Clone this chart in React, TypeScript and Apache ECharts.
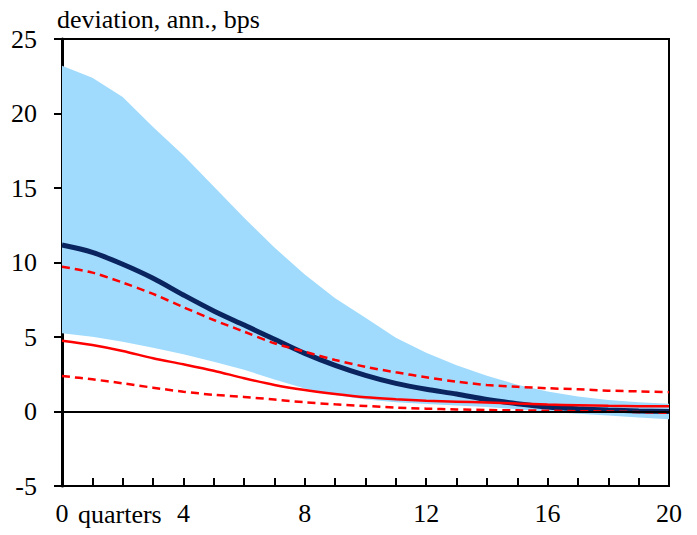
import React, { useEffect, useRef } from "react";
import * as echarts from "echarts";

const quarters = [0, 1, 2, 3, 4, 5, 6, 7, 8, 9, 10, 11, 12, 13, 14, 15, 16, 17, 18, 19, 20];
const bandUpper = [23.2, 22.4, 21.1, 19.1, 17.2, 15.1, 13.0, 11.0, 9.2, 7.6, 6.3, 4.95, 3.95, 3.1, 2.4, 1.8, 1.35, 1.0, 0.78, 0.62, 0.52];
const bandLower = [5.25, 5.02, 4.68, 4.28, 3.84, 3.34, 2.8, 2.15, 1.55, 1.1, 0.8, 0.62, 0.5, 0.4, 0.3, 0.15, -0.02, -0.15, -0.27, -0.4, -0.52];
const median = [11.17, 10.68, 9.88, 8.94, 7.82, 6.75, 5.8, 4.85, 3.9, 3.1, 2.43, 1.89, 1.49, 1.17, 0.8, 0.52, 0.3, 0.18, 0.1, 0.04, 0.0];
const redSolid = [4.75, 4.46, 4.06, 3.57, 3.17, 2.74, 2.23, 1.78, 1.44, 1.17, 0.95, 0.82, 0.72, 0.66, 0.6, 0.53, 0.47, 0.42, 0.38, 0.36, 0.35];
const redDashUpper = [9.72, 9.32, 8.65, 7.89, 7.0, 6.14, 5.36, 4.58, 4.01, 3.46, 3.0, 2.63, 2.3, 2.0, 1.78, 1.66, 1.56, 1.49, 1.4, 1.35, 1.3];
const redDashLower = [2.38, 2.16, 1.89, 1.6, 1.33, 1.12, 0.98, 0.8, 0.62, 0.48, 0.37, 0.26, 0.19, 0.14, 0.1, 0.08, 0.05, 0.02, 0.0, -0.04, -0.08];
const yTicks = { min: -5, max: 25, interval: 5 };
const xTicks = { min: 0, max: 20, interval: 4 };

const FONT = "Liberation Serif";

export default function App() {
  const ref = useRef<HTMLDivElement>(null);
  useEffect(() => {
    if (!ref.current) return;
    const chart = echarts.init(ref.current, undefined, { renderer: "svg" });
    const pair = (arr: number[]) => quarters.map((q, i) => [q, arr[i]]);
    chart.setOption({
      animation: false,
      grid: {
        left: 62,
        right: 28,
        top: 39,
        bottom: 49,
        show: true,
        borderColor: "#000",
        borderWidth: 2,
        backgroundColor: "transparent",
      },
      graphic: [
        {
          type: "text",
          left: 57,
          top: 6,
          style: { text: "deviation, ann., bps", font: `26px "${FONT}"`, fill: "#000" },
        },
        {
          type: "text",
          left: 78,
          top: 501,
          style: { text: "quarters", font: `26px "${FONT}"`, fill: "#000" },
        },
      ],
      xAxis: {
        type: "value",
        min: xTicks.min,
        max: xTicks.max,
        interval: xTicks.interval,
        axisLine: { show: true, onZero: false, lineStyle: { color: "#000", width: 2 } },
        axisTick: { show: true, inside: true, length: 8, lineStyle: { color: "#000", width: 2 } },
        minorTick: { show: true, splitNumber: 4, length: 8, lineStyle: { color: "#000", width: 2 } },
        splitLine: { show: false },
        axisLabel: { fontFamily: FONT, fontSize: 26, color: "#000", margin: 14 },
      },
      yAxis: {
        type: "value",
        min: yTicks.min,
        max: yTicks.max,
        interval: yTicks.interval,
        axisLine: { show: true, onZero: false, lineStyle: { color: "#000", width: 3 } },
        axisTick: { show: true, inside: false, length: 8, lineStyle: { color: "#000", width: 2 } },
        splitLine: { show: false },
        axisLabel: { fontFamily: FONT, fontSize: 26, color: "#000", margin: 25 },
      },
      series: [
        {
          type: "custom",
          name: "band",
          data: [0],
          z: 1,
          renderItem: (params: any, api: any) => {
            const pts: number[][] = [];
            quarters.forEach((q, i) => pts.push(api.coord([q, bandUpper[i]])));
            for (let i = quarters.length - 1; i >= 0; i--) pts.push(api.coord([quarters[i], bandLower[i]]));
            return {
              type: "polygon",
              shape: { points: pts },
              style: { fill: "#a0dbfd", stroke: "none" },
            };
          },
        },
        {
          type: "line",
          name: "zero",
          data: [],
          z: 0,
          markLine: {
            silent: true,
            symbol: "none",
            label: { show: false },
            lineStyle: { color: "#000", width: 2, type: "solid" },
            data: [{ yAxis: 0 }],
          },
        },
        {
          type: "line",
          name: "median",
          data: pair(median),
          symbol: "none",
          smooth: 0.3,
          lineStyle: { color: "#0a2460", width: 5 },
          z: 3,
        },
        {
          type: "line",
          name: "redSolid",
          data: pair(redSolid),
          symbol: "none",
          smooth: 0.3,
          lineStyle: { color: "#ff0000", width: 2.5 },
          z: 4,
        },
        {
          type: "line",
          name: "redDashUpper",
          data: pair(redDashUpper),
          symbol: "none",
          smooth: 0.3,
          lineStyle: { color: "#ff0000", width: 2.5, type: [8, 5] },
          z: 4,
        },
        {
          type: "line",
          name: "redDashLower",
          data: pair(redDashLower),
          symbol: "none",
          smooth: 0.3,
          lineStyle: { color: "#ff0000", width: 2.5, type: [8, 5] },
          z: 4,
        },
      ],
    });
    return () => chart.dispose();
  }, []);
  return <div ref={ref} style={{ width: 697, height: 535, position: "absolute", left: 0, top: 0 }} />;
}
